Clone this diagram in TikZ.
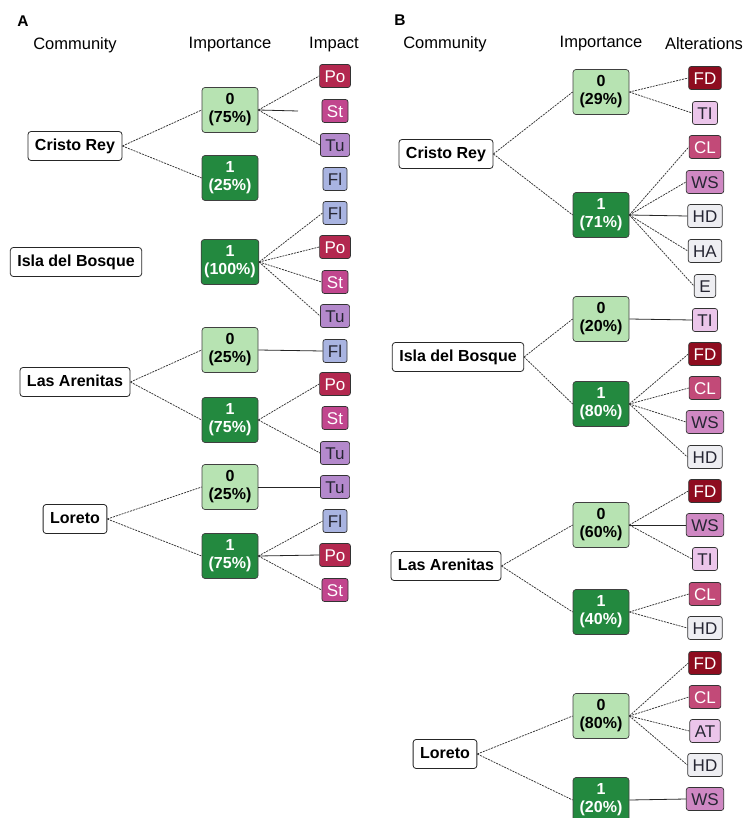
\documentclass[tikz,border=0pt]{standalone}
\usepackage{fontspec}
\setmainfont{Liberation Sans}
\usepackage{tikz}
\usetikzlibrary{positioning}

\definecolor{lowgreen}{HTML}{B7E3B2}
\definecolor{highgreen}{HTML}{23893F}
\definecolor{poColor}{HTML}{B3284F}
\definecolor{stColor}{HTML}{C1468E}
\definecolor{tuColor}{HTML}{B489CC}
\definecolor{flColor}{HTML}{A9B4E1}
\definecolor{fdColor}{HTML}{8E0C1F}
\definecolor{clColor}{HTML}{C24A78}
\definecolor{wsColor}{HTML}{CF88C3}
\definecolor{tiColor}{HTML}{EBC5EA}
\definecolor{hdColor}{HTML}{EEEEF2}
\definecolor{darktext}{HTML}{262633}

\begin{document}
\begin{tikzpicture}[x=1pt, y=-1pt,
    panel/.style={font=\bfseries\fontsize{15.5}{16}\selectfont},
    head/.style={font=\fontsize{16.5}{17}\selectfont},
    comm/.style={draw=black!85, line width=0.8pt, fill=white, rounded corners=3pt, minimum height=29pt, inner xsep=7pt,
        text height=11.5pt, text depth=3.4pt, font=\bfseries\fontsize{16}{16}\selectfont},
    imp/.style={draw=black!75, line width=0.7pt, rounded corners=3pt, minimum width=56pt, minimum height=45pt, inner sep=3pt,
        align=center, font=\bfseries\fontsize{16}{18}\selectfont},
    imp0/.style={imp, fill=lowgreen},
    imp1/.style={imp, fill=highgreen, text=white},
    leaf/.style={draw=black!80, line width=0.7pt, rounded corners=2.5pt, minimum height=23pt, minimum width=20pt, inner xsep=5pt,
        inner ysep=0pt, text height=12.2pt, text depth=0pt, font=\fontsize{17}{17}\selectfont, text=darktext},
    po tag/.style={leaf, fill=poColor, text=white},
    st tag/.style={leaf, fill=stColor, text=white},
    tu tag/.style={leaf, fill=tuColor},
    fl tag/.style={leaf, fill=flColor},
    fd tag/.style={leaf, fill=fdColor, text=white},
    cl tag/.style={leaf, fill=clColor, text=white},
    ws tag/.style={leaf, fill=wsColor},
    ti tag/.style={leaf, fill=tiColor},
    hd tag/.style={leaf, fill=hdColor},
    branch/.style={draw=black!80, line width=0.75pt, dash pattern=on 2pt off 1pt},
    flat/.style={draw=black!85, line width=0.8pt}
]
\useasboundingbox (0,0) rectangle (745,818);

% Panel A: impact
\node[panel] (labA) at (23,21) {A};
\node[head] (hcomA) at (75,45) {Community};
\node[head] (himpA) at (230,45) {Importance};
\node[head] (hiA) at (334,45) {Impact};

\node[comm] (crA) at (75,146) {Cristo Rey};
\node[comm] (ibA) at (76,262) {Isla del Bosque};
\node[comm] (laA) at (75,382) {Las Arenitas};
\node[comm] (loA) at (75,519) {Loreto};

\node[imp0] (crA0) at (230,110) {0\\(75\%)};
\node[imp1] (crA1) at (230,178) {1\\(25\%)};
\node[imp1] (ibA1) at (230,262) {1\\(100\%)};
\node[imp0] (laA0) at (230,350) {0\\(25\%)};
\node[imp1] (laA1) at (230,420) {1\\(75\%)};
\node[imp0] (loA0) at (230,487) {0\\(25\%)};
\node[imp1] (loA1) at (230,556) {1\\(75\%)};

\foreach \name/\y/\txt/\kind in {crA0po/76/Po/po tag, crA0st/111/St/st tag, crA0tu/145/Tu/tu tag,
    crA1fl/179/Fl/fl tag, ibA1fl/213/Fl/fl tag, ibA1po/247/Po/po tag, ibA1st/282/St/st tag,
    ibA1tu/316/Tu/tu tag, laA0fl/351/Fl/fl tag, laA1po/384/Po/po tag, laA1st/418/St/st tag,
    laA1tu/453/Tu/tu tag, loA0tu/487/Tu/tu tag, loA1fl/521/Fl/fl tag, loA1po/555/Po/po tag,
    loA1st/590/St/st tag}
    \node[\kind] (\name) at (335,\y) {\txt};

% community to importance
\foreach \a/\b in {crA/crA0, crA/crA1, laA/laA0, laA/laA1, loA/loA0, loA/loA1}
    \draw[branch] (\a.east) -- (\b.west);
% importance to impact
\foreach \a/\b in {crA0/crA0po, crA0/crA0tu, ibA1/ibA1fl, ibA1/ibA1po, ibA1/ibA1st, ibA1/ibA1tu,
    laA1/laA1po, laA1/laA1tu, loA1/loA1fl, loA1/loA1st}
    \draw[branch] (\a.east) -- (\b.west);
\foreach \a/\b in {laA0/laA0fl, loA0/loA0tu, loA1/loA1po}
    \draw[flat] (\a.east) -- (\b.west);
\coordinate (crA0stub) at (298,111);
\draw[flat] (crA0.east) -- (crA0stub);

% Panel B: alterations
\node[panel] (labB) at (400,20) {B};
\node[head] (hcomB) at (445,44) {Community};
\node[head] (himpB) at (601,44) {Importance};
\node[head] (haltB) at (704,44) {Alterations};

\node[comm] (crB) at (446,154) {Cristo Rey};
\node[comm] (ibB) at (458,357) {Isla del Bosque};
\node[comm] (laB) at (446,566) {Las Arenitas};
\node[comm] (loB) at (445,754) {Loreto};

\node[imp0] (crB0) at (601,92) {0\\(29\%)};
\node[imp1] (crB1) at (601,215) {1\\(71\%)};
\node[imp0] (ibB0) at (601,319) {0\\(20\%)};
\node[imp1] (ibB1) at (601,404) {1\\(80\%)};
\node[imp0] (laB0) at (601,525) {0\\(60\%)};
\node[imp1] (laB1) at (601,612) {1\\(40\%)};
\node[imp0] (loB0) at (601,716) {0\\(80\%)};
\node[imp1] (loB1) at (601,800) {1\\(20\%)};

\foreach \name/\y/\txt/\kind in {crB0fd/78/FD/fd tag, crB0ti/113/TI/ti tag, crB1cl/147/CL/cl tag,
    crB1ws/182/WS/ws tag, crB1hd/216/HD/hd tag, crB1ha/251/HA/hd tag, crB1e/286/E/hd tag,
    ibB0ti/320/TI/ti tag, ibB1fd/354/FD/fd tag, ibB1cl/388/CL/cl tag, ibB1ws/422/WS/ws tag,
    ibB1hd/457/HD/hd tag, laB0fd/491/FD/fd tag, laB0ws/525/WS/ws tag, laB0ti/559/TI/ti tag,
    laB1cl/594/CL/cl tag, laB1hd/628/HD/hd tag, loB0fd/663/FD/fd tag, loB0cl/697/CL/cl tag,
    loB0at/731/AT/ti tag, loB0hd/765/HD/hd tag, loB1ws/799/WS/ws tag}
    \node[\kind] (\name) at (705,\y) {\txt};

% community to importance
\foreach \a/\b in {crB/crB0, crB/crB1, ibB/ibB0, ibB/ibB1, laB/laB0, laB/laB1, loB/loB0, loB/loB1}
    \draw[branch] (\a.east) -- (\b.west);
% importance to alterations
\foreach \a/\b in {crB0/crB0fd, crB0/crB0ti, crB1/crB1cl, crB1/crB1ws, crB1/crB1ha, crB1/crB1e,
    ibB1/ibB1fd, ibB1/ibB1cl, ibB1/ibB1ws, ibB1/ibB1hd, laB0/laB0fd, laB0/laB0ti,
    laB1/laB1cl, laB1/laB1hd, loB0/loB0fd, loB0/loB0cl, loB0/loB0at, loB0/loB0hd}
    \draw[branch] (\a.east) -- (\b.west);
\foreach \a/\b in {crB1/crB1hd, ibB0/ibB0ti, laB0/laB0ws, loB1/loB1ws}
    \draw[flat] (\a.east) -- (\b.west);

\end{tikzpicture}
\end{document}
